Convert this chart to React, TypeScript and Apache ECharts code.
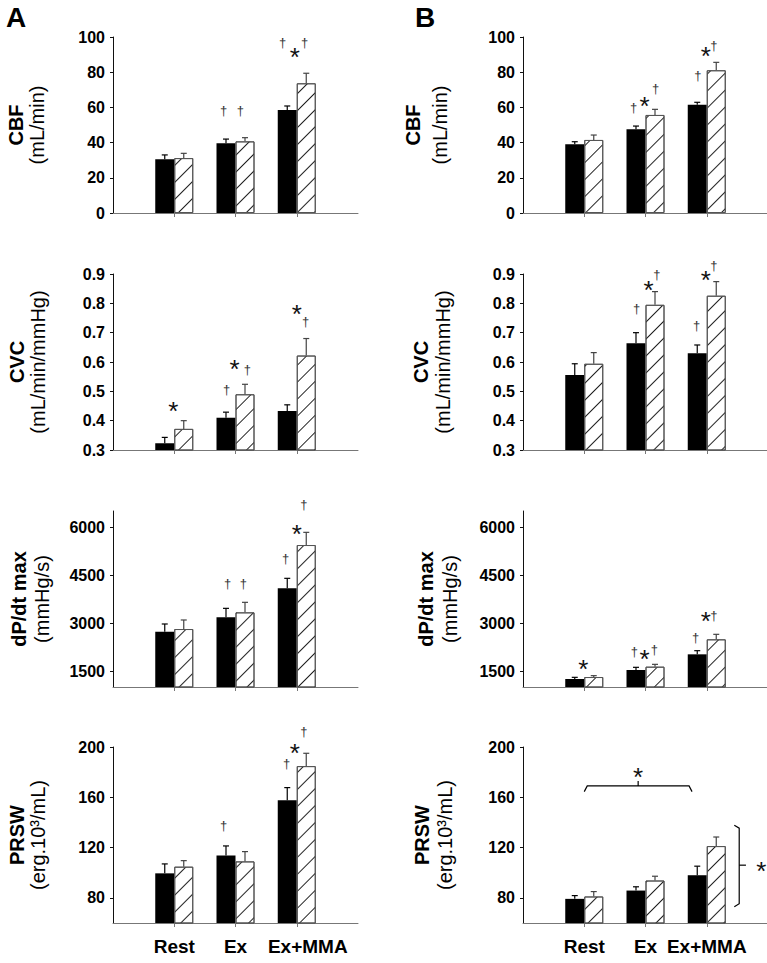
import React, { useEffect, useRef } from 'react';
import * as echarts from 'echarts';

const categories = ['Rest', 'Ex', 'Ex+MMA'];

const cbfTicks = [0, 20, 40, 60, 80, 100];
const cvcTicks = [0.3, 0.4, 0.5, 0.6, 0.7, 0.8, 0.9];
const dpdtTicks = [1500, 3000, 4500, 6000];
const prswTicks = [80, 120, 160, 200];

// Panel A
const cbfA_solid = [30.5, 39.6, 58.5];
const cbfA_solidErr = [2.5, 2.4, 2.3];
const cbfA_hatched = [31.2, 40.7, 73.7];
const cbfA_hatchedErr = [2.7, 2.1, 5.7];
const cbfA_marks: any[] = [[1, -0.63, 58.5, '†'], [1, 0.26, 58.5, '†'], [2, -0.74, 97, '†'], [2, -0.1, 92, '*'], [2, 0.42, 97, '†']];

const cvcA_solid = [0.323, 0.41, 0.433];
const cvcA_solidErr = [0.02, 0.019, 0.021];
const cvcA_hatched = [0.372, 0.49, 0.622];
const cvcA_hatchedErr = [0.028, 0.034, 0.058];
const cvcA_marks: any[] = [[0, -0.05, 0.454, '*'], [1, -0.47, 0.505, '†'], [1, -0.05, 0.597, '*'], [1, 0.63, 0.576, '†'], [2, 0, 0.785, '*'], [2, 0.47, 0.737, '†']];

const dpdtA_solid = [2728, 3177, 4083];
const dpdtA_solidErr = [241, 281, 313];
const dpdtA_hatched = [2812, 3333, 5437];
const dpdtA_hatchedErr = [282, 313, 396];
const dpdtA_marks: any[] = [[1, -0.42, 4250, '†'], [1, 0.42, 4250, '†'], [2, -0.58, 5031, '†'], [2, 0, 5969, '*'], [2, 0.37, 6688, '†']];

const prswA_solid = [99.5, 113.6, 157.6];
const prswA_solidErr = [7.5, 7.7, 10.1];
const prswA_hatched = [104.8, 109, 184.8];
const prswA_hatchedErr = [4.8, 7.8, 10.2];
const prswA_marks: any[] = [[1, -0.63, 137.6, '†'], [2, -0.53, 187.2, '†'], [2, -0.1, 200, '*'], [2, 0.37, 212, '†']];

// Panel B
const cbfB_solid = [39, 47.6, 61.5];
const cbfB_solidErr = [1.5, 1.8, 1.4];
const cbfB_hatched = [41.5, 55.7, 81.1];
const cbfB_hatchedErr = [2.8, 3.2, 4.5];
const cbfB_marks: any[] = [[1, -0.63, 60.2, '†'], [1, -0.05, 64.2, '*'], [1, 0.53, 70.5, '†'], [2, -0.47, 78.4, '†'], [2, -0.05, 92.6, '*'], [2, 0.37, 94.9, '†']];

const cvcB_solid = [0.556, 0.664, 0.63];
const cvcB_solidErr = [0.038, 0.036, 0.028];
const cvcB_hatched = [0.594, 0.795, 0.826];
const cvcB_hatchedErr = [0.038, 0.045, 0.048];
const cvcB_marks: any[] = [[1, -0.47, 0.781, '†'], [1, 0.16, 0.867, '*'], [1, 0.6, 0.9, '†'], [2, -0.53, 0.723, '†'], [2, -0.05, 0.9, '*'], [2, 0.38, 0.928, '†']];

const dpdtB_solid = [1250, 1531, 2021];
const dpdtB_solidErr = [52, 84, 114];
const dpdtB_hatched = [1312, 1635, 2490];
const dpdtB_hatchedErr = [42, 73, 156];
const dpdtB_marks: any[] = [[0, -0.05, 1750, '*'], [1, -0.58, 2094, '†'], [1, -0.05, 2062, '*'], [1, 0.47, 2187, '†'], [2, -0.58, 2562, '†'], [2, -0.05, 3250, '*'], [2, 0.37, 3219, '†']];

const prswB_solid = [79.2, 85.8, 98];
const prswB_solidErr = [2.6, 3, 7.2];
const prswB_hatched = [81.1, 93.8, 121.2];
const prswB_hatchedErr = [3.9, 3.4, 7.2];
const prswB_marks: any[] = [];
// brackets (x in category units from Rest, y in data units)
const prswB_bracketH = { from: 0, to: 1.76, y: 169, down: 164.5, up: 173, star: 180.5 };
const prswB_bracketV = { x: 2.53, from: 73, to: 137.8, arm: 2.45, mid: 106, tip: 2.64, starX: 2.89 };

const FONT = '"Liberation Sans", Arial, Helvetica, sans-serif';
const BAR_W = 19;
const COL_LEFT = [113, 523];
const ROW_TOP = [37, 274, 511, 747];
const GRID_W = 245;
const GRID_H = 176;
const STAR_SIZE = 26;
const DAG_SIZE = 13;

const panels = [
  { col: 0, row: 0, min: 0, max: 100, ticks: cbfTicks, dec: 0, s: cbfA_solid, se: cbfA_solidErr, h: cbfA_hatched, he: cbfA_hatchedErr, marks: cbfA_marks, t1: 'CBF', t2: '(mL/min)', tx: [16, 37] },
  { col: 0, row: 1, min: 0.3, max: 0.9, ticks: cvcTicks, dec: 1, s: cvcA_solid, se: cvcA_solidErr, h: cvcA_hatched, he: cvcA_hatchedErr, marks: cvcA_marks, t1: 'CVC', t2: '(mL/min/mmHg)', tx: [17, 38] },
  { col: 0, row: 2, min: 1000, max: 6500, ticks: dpdtTicks, dec: 0, s: dpdtA_solid, se: dpdtA_solidErr, h: dpdtA_hatched, he: dpdtA_hatchedErr, marks: dpdtA_marks, t1: 'dP/dt max', t2: '(mmHg/s)', tx: [19, 42] },
  { col: 0, row: 3, min: 60, max: 200, ticks: prswTicks, dec: 0, s: prswA_solid, se: prswA_solidErr, h: prswA_hatched, he: prswA_hatchedErr, marks: prswA_marks, t1: 'PRSW', t2: '(erg.10³/mL)', tx: [17, 38] },
  { col: 1, row: 0, min: 0, max: 100, ticks: cbfTicks, dec: 0, s: cbfB_solid, se: cbfB_solidErr, h: cbfB_hatched, he: cbfB_hatchedErr, marks: cbfB_marks, t1: 'CBF', t2: '(mL/min)', tx: [413, 440] },
  { col: 1, row: 1, min: 0.3, max: 0.9, ticks: cvcTicks, dec: 1, s: cvcB_solid, se: cvcB_solidErr, h: cvcB_hatched, he: cvcB_hatchedErr, marks: cvcB_marks, t1: 'CVC', t2: '(mL/min/mmHg)', tx: [421, 443] },
  { col: 1, row: 2, min: 1000, max: 6500, ticks: dpdtTicks, dec: 0, s: dpdtB_solid, se: dpdtB_solidErr, h: dpdtB_hatched, he: dpdtB_hatchedErr, marks: dpdtB_marks, t1: 'dP/dt max', t2: '(mmHg/s)', tx: [426, 450] },
  { col: 1, row: 3, min: 60, max: 200, ticks: prswTicks, dec: 0, s: prswB_solid, se: prswB_solidErr, h: prswB_hatched, he: prswB_hatchedErr, marks: prswB_marks, t1: 'PRSW', t2: '(erg.10³/mL)', tx: [422, 445] },
];

function markText(x: number, y: number, t: string) {
  const isStar = t === '*';
  const size = isStar ? STAR_SIZE : DAG_SIZE;
  return {
    type: 'text',
    x,
    y: y + (isStar ? 0.23 * size : 0),
    style: {
      text: t,
      font: `${size}px ${FONT}`,
      fill: isStar ? '#111' : '#333',
      align: 'center',
      verticalAlign: 'middle',
      textAlign: 'center',
      textVerticalAlign: 'middle',
    },
  };
}

function buildOption() {
  const grid: any[] = [];
  const xAxis: any[] = [];
  const yAxis: any[] = [];
  const series: any[] = [];
  const graphic: any[] = [];

  panels.forEach((p, i) => {
    grid.push({ left: COL_LEFT[p.col], top: ROW_TOP[p.row], width: GRID_W, height: GRID_H, outerBoundsMode: 'none' });
    xAxis.push({
      gridIndex: i,
      type: 'category',
      data: ['', ...categories, ''],
      boundaryGap: false,
      axisLine: { show: true, lineStyle: { color: '#777', width: 1 } },
      axisTick: { show: true, interval: (idx: number) => idx >= 1 && idx <= 3, length: 4, lineStyle: { color: '#777' } },
      axisLabel: {
        show: p.row === 3,
        interval: 0,
        margin: 14,
        color: '#000',
        fontFamily: FONT,
        fontSize: 19,
        fontWeight: 'bold',
        formatter: (v: string) => (p.col === 0 && v === 'Ex+MMA' ? '{s|' + v + '}' : v),
        rich: { s: { fontFamily: FONT, fontSize: 19, fontWeight: 'bold', color: '#000', padding: [0, 0, 0, 22] } },
      },
      splitLine: { show: false },
    });
    yAxis.push({
      gridIndex: i,
      type: 'value',
      min: p.min,
      max: p.max,
      axisLine: { show: true, lineStyle: { color: '#111', width: 1 } },
      axisTick: { show: true, length: 3, customValues: p.ticks, lineStyle: { color: '#111' } },
      axisLabel: {
        customValues: p.ticks,
        formatter: (v: number) => (p.dec ? v.toFixed(1) : String(Math.round(v))),
        color: '#000',
        fontFamily: FONT,
        fontSize: 16,
        fontWeight: 'bold',
        margin: 8,
      },
      splitLine: { show: false },
    });

    series.push({
      type: 'bar',
      xAxisIndex: i,
      yAxisIndex: i,
      data: ['-', ...p.s, '-'],
      barWidth: BAR_W,
      barGap: '0%',
      itemStyle: { color: '#000' },
      silent: true,
    });
    series.push({
      type: 'bar',
      xAxisIndex: i,
      yAxisIndex: i,
      data: ['-', ...p.h, '-'],
      barWidth: BAR_W,
      barGap: '0%',
      itemStyle: {
        color: '#fff',
        borderColor: '#555',
        borderWidth: 1,
        decal: {
          symbol: 'rect',
          symbolSize: 1,
          color: '#222',
          dashArrayX: [1, 0],
          dashArrayY: [1, 11],
          rotation: -Math.PI / 4,
        },
      },
      silent: true,
    });

    const errs: any[] = [];
    p.s.forEach((v, k) => errs.push([k, v, p.se[k], -0.5, '#000']));
    p.h.forEach((v, k) => errs.push([k, v, p.he[k], 0.5, '#444']));
    series.push({
      type: 'custom',
      xAxisIndex: i,
      yAxisIndex: i,
      silent: true,
      data: errs.map((e) => [e[0] + 1, e[1] + e[2]]),
      renderItem: (params: any, api: any) => {
        const e = errs[params.dataIndex];
        const base = api.coord([e[0] + 1, e[1]]);
        const top = api.coord([e[0] + 1, e[1] + e[2]]);
        const x = base[0] + e[3] * BAR_W;
        return {
          type: 'group',
          children: [
            { type: 'line', shape: { x1: x, y1: base[1], x2: x, y2: top[1] }, style: { stroke: e[4], lineWidth: 1.2 } },
            { type: 'line', shape: { x1: x - 3, y1: top[1], x2: x + 3, y2: top[1] }, style: { stroke: e[4], lineWidth: 1.2 } },
          ],
        };
      },
    });

    if (p.marks.length) {
      const marks = p.marks;
      series.push({
        type: 'custom',
        xAxisIndex: i,
        yAxisIndex: i,
        silent: true,
        clip: false,
        data: marks.map((m) => [m[0] + 1, m[2]]),
        renderItem: (params: any, api: any) => {
          const m = marks[params.dataIndex];
          const c = api.coord([m[0] + 1, m[2]]);
          return markText(c[0] + m[1] * BAR_W, c[1], m[3]);
        },
      });
    }

    if (p.col === 1 && p.row === 3) {
      const bh = prswB_bracketH;
      const bv = prswB_bracketV;
      series.push({
        type: 'custom',
        xAxisIndex: i,
        yAxisIndex: i,
        silent: true,
        clip: false,
        data: [[1, bh.y]],
        renderItem: (params: any, api: any) => {
          const bw = api.size([1, 0])[0];
          const X = (xf: number) => api.coord([1, 100])[0] + xf * bw;
          const Y = (v: number) => api.coord([1, v])[1];
          const mid = (bh.from + bh.to) / 2;
          const st = { stroke: '#000', lineWidth: 1.2, fill: null };
          return {
            type: 'group',
            children: [
              { type: 'polyline', shape: { points: [[X(bh.from), Y(bh.down)], [X(bh.from) + 3, Y(bh.y)], [X(bh.to) - 3, Y(bh.y)], [X(bh.to), Y(bh.down)]] }, style: st },
              { type: 'line', shape: { x1: X(mid), y1: Y(bh.y), x2: X(mid), y2: Y(bh.up) }, style: st },
              markText(X(mid), Y(bh.star), '*'),
              { type: 'polyline', shape: { points: [[X(bv.arm), Y(bv.to)], [X(bv.x), Y(bv.to) + 3], [X(bv.x), Y(bv.from) - 3], [X(bv.arm), Y(bv.from)]] }, style: st },
              { type: 'line', shape: { x1: X(bv.x), y1: Y(bv.mid), x2: X(bv.tip), y2: Y(bv.mid) }, style: st },
              markText(X(bv.starX), Y(bv.mid), '*'),
            ],
          };
        },
      });
    }

    const cy = ROW_TOP[p.row] + GRID_H / 2;
    graphic.push({
      type: 'text',
      x: p.tx[0],
      y: cy,
      rotation: Math.PI / 2,
      style: { text: p.t1, font: `bold 20px ${FONT}`, fill: '#000', align: 'center', verticalAlign: 'middle', textAlign: 'center', textVerticalAlign: 'middle' },
    });
    graphic.push({
      type: 'text',
      x: p.tx[1],
      y: cy,
      rotation: Math.PI / 2,
      style: { text: p.t2, font: `20px ${FONT}`, fill: '#000', align: 'center', verticalAlign: 'middle', textAlign: 'center', textVerticalAlign: 'middle' },
    });
  });

  graphic.push({ type: 'text', x: 6, y: 3, style: { text: 'A', font: `bold 28px ${FONT}`, fill: '#000', align: 'left', verticalAlign: 'top', textAlign: 'left', textVerticalAlign: 'top' } });
  graphic.push({ type: 'text', x: 415, y: 3, style: { text: 'B', font: `bold 28px ${FONT}`, fill: '#000', align: 'left', verticalAlign: 'top', textAlign: 'left', textVerticalAlign: 'top' } });

  return {
    animation: false,
    backgroundColor: '#fff',
    grid,
    xAxis,
    yAxis,
    series,
    graphic,
  };
}

export default function App() {
  const ref = useRef<HTMLDivElement>(null);
  useEffect(() => {
    if (!ref.current) return;
    const chart = echarts.init(ref.current, null, { renderer: 'svg' });
    chart.setOption(buildOption() as any);
    return () => chart.dispose();
  }, []);
  return <div ref={ref} style={{ position: 'absolute', left: 0, top: 0, width: 767, height: 963 }} />;
}
